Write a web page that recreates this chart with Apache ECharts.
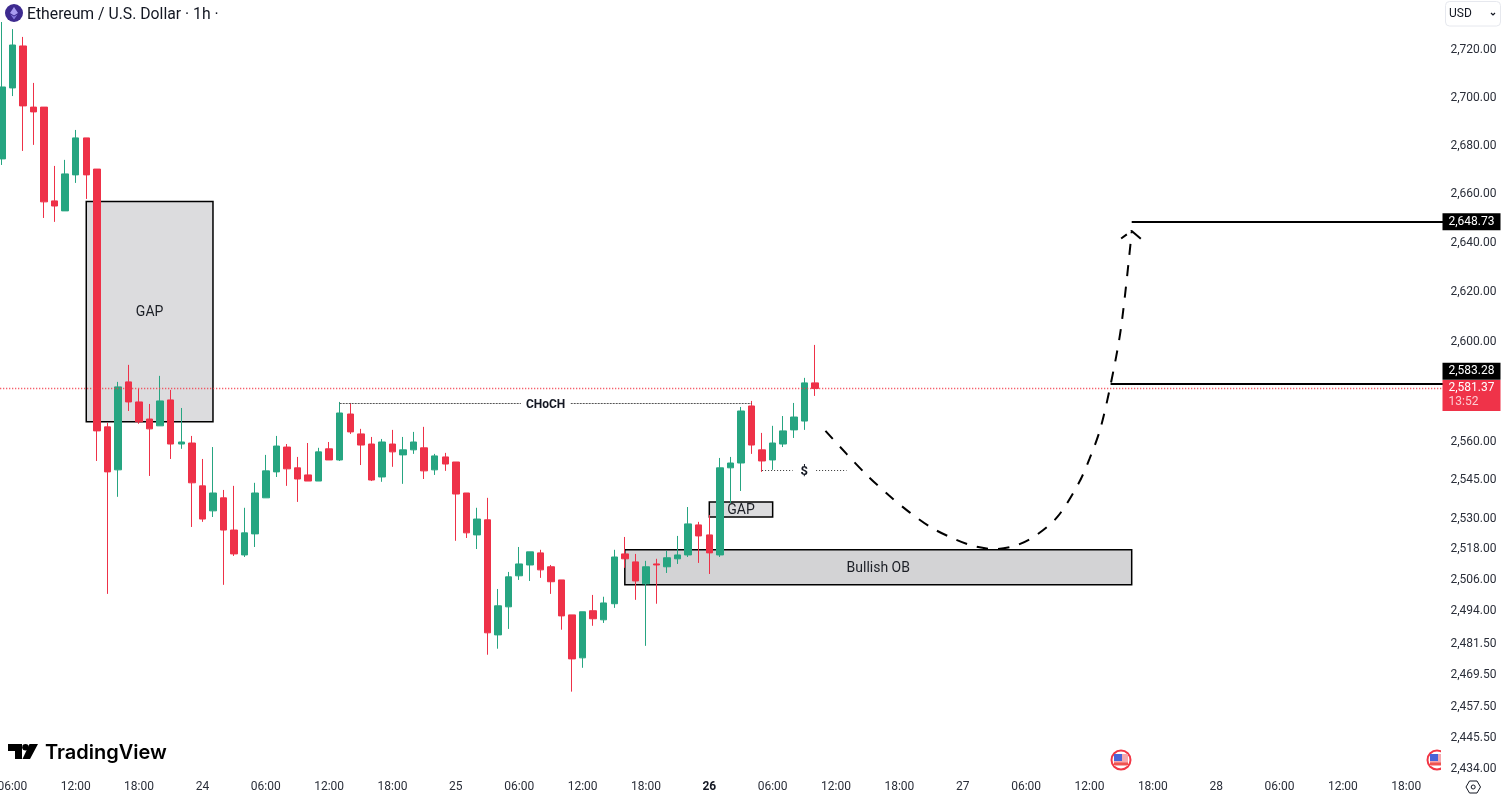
<!DOCTYPE html>
<html>
<head>
<meta charset="utf-8">
<style>html,body{margin:0;padding:0;background:#fff}#chart{width:1502px;height:798px}</style>
<script src="https://cdn.jsdelivr.net/npm/echarts@6/dist/echarts.min.js"></script>
</head>
<body>
<div id="chart"></div>
<script>
// hourly ETH/USD candles, first one is 23rd 05:00
const candleOpen = [2674.6,2704.1,2721.7,2696.1,2696.1,2657.3,2653.2,2668.0,2683.3,2670.4,
  2566.1,2549.1,2584.0,2576.0,2569.2,2566.5,2576.8,2559.3,2559.7,2542.8,
  2533.0,2538.1,2525.5,2515.8,2524.0,2538.1,2548.3,2558.1,2549.9,2547.1,
  2544.7,2557.4,2553.0,2571.2,2563.3,2559.3,2546.3,2559.3,2555.0,2557.0,
  2557.8,2549.1,2554.2,2552.2,2540.0,2523.6,2529.5,2484.9,2495.7,2507.7,
  2511.9,2516.6,2511.2,2506.1,2492.6,2476.1,2494.2,2490.7,2496.9,2516.2,
  2513.1,2504.6,2512.3,2511.2,2514.3,2515.8,2527.5,2523.6,2515.8,2549.9,
  2551.8,2574.4,2557.0,2553.0,2559.3,2564.9,2568.4,2583.6];
const candleClose = [2704.5,2722.1,2696.6,2694.1,2656.9,2655.2,2668.4,2683.3,2668.0,2564.5,
  2548.3,2582.0,2576.0,2568.1,2565.3,2576.4,2559.3,2560.1,2544.0,2529.8,
  2540.0,2525.5,2516.2,2524.4,2540.0,2548.7,2558.5,2549.5,2545.5,2544.7,
  2556.2,2553.0,2571.6,2564.1,2558.9,2545.1,2560.1,2556.2,2557.0,2560.1,
  2548.7,2554.6,2551.4,2539.6,2524.4,2529.8,2485.7,2496.1,2507.3,2512.3,
  2517.0,2510.0,2505.4,2492.2,2475.7,2493.8,2491.1,2497.2,2515.0,2514.3,
  2505.7,2511.2,2511.9,2514.7,2515.8,2527.9,2523.2,2516.6,2549.9,2551.8,
  2572.4,2558.9,2552.6,2559.7,2564.5,2570.0,2583.6,2581.37];
const candleLow = [2672.1,2700.7,2677.9,2680.4,2650.3,2648.7,2653.2,2664.7,2658.1,2552.6,
  2500.7,2538.5,2572.4,2567.3,2546.7,2566.5,2553.4,2557.4,2526.7,2528.7,
  2530.6,2504.2,2515.4,2515.0,2518.9,2538.1,2546.3,2542.8,2536.5,2544.7,
  2544.7,2553.0,2552.6,2563.3,2551.0,2544.7,2544.4,2550.3,2543.6,2555.4,
  2545.5,2547.1,2548.7,2521.3,2522.4,2518.1,2477.3,2479.6,2487.2,2506.1,
  2505.7,2506.9,2500.7,2486.9,2463.2,2472.3,2488.4,2489.5,2495.3,2510.8,
  2498.4,2480.7,2496.9,2508.8,2512.3,2515.0,2512.7,2508.4,2515.0,2536.1,
  2540.8,2555.4,2548.3,2549.1,2558.1,2561.7,2564.9,2578.4];
const candleHigh = [2731.8,2728.8,2725.5,2706.2,2696.1,2671.7,2674.2,2686.6,2683.3,2670.4,
  2567.7,2584.0,2590.8,2581.2,2575.2,2586.4,2580.8,2573.6,2562.5,2553.4,
  2558.1,2541.2,2542.8,2534.2,2544.0,2555.0,2562.5,2559.3,2554.2,2559.7,
  2557.8,2560.1,2576.0,2575.6,2565.3,2562.1,2561.3,2564.9,2562.1,2564.1,
  2566.1,2555.4,2555.8,2552.2,2540.0,2534.2,2538.1,2502.6,2509.2,2518.9,
  2517.0,2517.8,2511.9,2506.1,2492.6,2493.8,2500.3,2499.6,2517.8,2522.8,
  2516.2,2513.5,2514.3,2517.4,2523.2,2534.5,2528.7,2531.4,2553.8,2554.2,
  2574.0,2576.4,2563.7,2566.5,2570.4,2575.6,2585.6,2598.8];

const priceTicks = [2720,2700,2680,2660,2640,2620,2600,2560,2545,2530,2518,2506,2494,2481.5,2469.5,2457.5,2445.5,2434];

// projected path, by category index
const pathIndex = [79,81,83,85,87,89,91,93,95,97,99,101,103,104,105,106,107,108];
const pathPrice = [2564.5,2555.4,2546.7,2539.1,2532.3,2526.5,2522.4,2519.3,2518.1,2519.4,2523.6,2530.8,2544.0,2553.4,2564.9,2582.8,2606.0,2644.6];
const arrowIndex = [107,108,109];
const arrowPrice = [2641.9,2645.0,2641.3];

const lastPrice = 2581.37;
const levelUpper = 2648.73;
const levelLower = 2583.28;

// categories run 23rd 04:00 up to the right edge, one per hour
const categories = [];
for (let i = 0, day = 23, hour = 4; i < 139; i++) {
  categories.push(day + ' ' + String(hour).padStart(2, '0') + ':00');
  hour++;
  if (hour == 24) { hour = 0; day++; }
}
const candles = [['-', '-', '-', '-']];
candleOpen.forEach((o, i) => candles.push([o, candleClose[i], candleLow[i], candleHigh[i]]));

const money = v => v.toLocaleString('en-US', { minimumFractionDigits: 2, maximumFractionDigits: 2 });
const font = 'Roboto';

let chart = echarts.init(document.getElementById('chart'), null, { renderer: 'canvas' });

const boxStyle = fill => ({ color: fill, borderColor: '#000', borderWidth: 1.5 });
const boxLabel = { show: true, position: 'inside', offset: [0, 1], color: '#1c1f26', fontSize: 14, fontFamily: font };

chart.setOption({
  animation: false,
  backgroundColor: '#fff',
  textStyle: { fontFamily: font },
  title: {
    text: 'Ethereum / U.S. Dollar · 1h ·',
    left: 27, top: 7, padding: 0,
    textStyle: { fontSize: 15.75, fontWeight: 'normal', color: '#131722', fontFamily: font }
  },
  grid: { left: -8.78, top: 0, width: 1457.28, height: 772, outerBoundsMode: 'none', containLabel: false },
  xAxis: {
    type: 'category',
    boundaryGap: false,
    data: categories,
    axisLine: { show: false },
    axisTick: { show: false },
    splitLine: { show: false },
    axisLabel: {
      margin: 9,
      fontSize: 12,
      color: '#2a2e39',
      interval: (i, name) => Number(name.slice(-5, -3)) % 6 == 0,
      formatter: name => {
        const [day, time] = name.split(' ');
        if (time != '00:00') return time;
        return day == '26' ? '{b|26}' : day;
      },
      rich: { b: { fontSize: 12, fontWeight: 'bold', color: '#131722', fontFamily: font } }
    }
  },
  yAxis: {
    type: 'log',
    logBase: 10,
    position: 'right',
    min: 2432.8,
    max: 2741.1,
    axisLine: { show: false },
    axisTick: { show: false },
    splitLine: { show: false },
    axisLabel: {
      show: true,
      margin: 2,
      fontSize: 12,
      color: '#2a2e39',
      padding: [0, 0, 4, 0],
      customValues: priceTicks,
      formatter: v => money(v)
    }
  },
  series: [
    {
      type: 'line', z: 1, data: [], silent: true,
      markArea: {
        silent: true,
        data: [
          [{ coord: [categories[9], 2657.1], itemStyle: boxStyle('#dcdcde'), label: { ...boxLabel, formatter: 'GAP' } }, { coord: [categories[21], 2568.1] }],
          [{ coord: [categories[68], 2536.5], itemStyle: boxStyle('#dcdcde'), label: { ...boxLabel, formatter: 'GAP' } }, { coord: [categories[74], 2530.6] }],
          [{ coord: [categories[60], 2517.8], itemStyle: boxStyle('#d3d3d5'), label: { ...boxLabel, formatter: 'Bullish OB' } }, { coord: [categories[108], 2504.2] }]
        ]
      },
      markLine: {
        silent: true, symbol: 'none',
        data: [{ yAxis: lastPrice, lineStyle: { color: '#f23645', type: [1, 2], width: 1.3, opacity: 1 }, label: { show: false } }]
      }
    },
    {
      type: 'candlestick', z: 3,
      data: candles,
      barWidth: 7,
      clip: false,
      itemStyle: {
        color: '#26a581', color0: '#ee3148',
        borderColor: '#26a581', borderColor0: '#ee3148', borderColorDoji: '#ee3148',
        borderWidth: 1
      }
    },
    {
      type: 'line', z: 4, silent: true,
      data: pathIndex.map((x, i) => [categories[x], pathPrice[i]]),
      smooth: 0.3,
      showSymbol: false,
      lineStyle: { color: '#000', width: 2, type: [11, 10.5] },
      markLine: {
        silent: true, symbol: 'none',
        data: [
          [{ coord: [categories[108], levelUpper], lineStyle: { color: '#000', width: 2, type: 'solid' }, label: { show: false } }, { coord: [categories[138], levelUpper] }],
          [{ coord: [categories[106], levelLower], lineStyle: { color: '#000', width: 2, type: 'solid' }, label: { show: false } }, { coord: [categories[138], levelLower] }],
          [{
            coord: [categories[33], 2575.6], lineStyle: { color: '#555', width: 1, type: [2, 1] },
            label: { show: true, position: 'insideMiddle', offset: [0, 2], formatter: 'CHoCH', color: '#131722', fontSize: 12, fontWeight: 'bold', backgroundColor: '#fff', padding: [1, 5] }
          }, { coord: [categories[72], 2575.6] }],
          [{
            coord: [categories[73], 2549.1], lineStyle: { color: '#333', width: 1, type: [1, 2] },
            label: { show: true, position: 'insideMiddle', offset: [0, 2], formatter: '$', color: '#131722', fontSize: 13, fontWeight: 'bold', backgroundColor: '#fff', padding: [1, 8] }
          }, { coord: [categories[81], 2549.1] }]
        ]
      }
    },
    {
      type: 'line', z: 4, silent: true,
      data: arrowIndex.map((x, i) => [categories[x], arrowPrice[i]]),
      showSymbol: false,
      lineStyle: { color: '#000', width: 2, type: [7, 5, 13, 20] }
    },
    {
      type: 'line', z: 6, data: [], silent: true,
      markPoint: {
        silent: true,
        symbol: 'rect',
        data: [
          {
            coord: [categories[138], levelUpper], symbolSize: [58, 17], symbolOffset: [23, 0],
            itemStyle: { color: '#000' },
            label: { show: true, position: 'inside', formatter: money(levelUpper), color: '#fff', fontSize: 12, fontFamily: font }
          },
          {
            coord: [categories[138], levelLower], symbolSize: [58, 17], symbolOffset: [23, -12.5],
            itemStyle: { color: '#000' },
            label: { show: true, position: 'inside', formatter: money(levelLower), color: '#fff', fontSize: 12, fontFamily: font }
          },
          {
            coord: [categories[138], lastPrice], symbolSize: [58, 31], symbolOffset: [23, 7],
            itemStyle: { color: '#ef3349' },
            label: {
              show: true, position: 'inside', formatter: '{p|' + money(lastPrice) + '}\n{t|13:52}',
              rich: {
                p: { color: '#fff', fontSize: 12, lineHeight: 14, width: 46, align: 'left', fontFamily: font },
                t: { color: '#fccdd2', fontSize: 12, lineHeight: 14, width: 46, align: 'left', fontFamily: font }
              }
            }
          }
        ]
      }
    }
  ],
  graphic: [
    // pair icon
    { type: 'circle', shape: { cx: 14, cy: 13, r: 9 }, style: { fill: '#3d2a8f' } },
    { type: 'polygon', shape: { points: [[14, 7], [18, 13], [14, 15.5], [10, 13]] }, style: { fill: '#a99cf0' } },
    { type: 'polygon', shape: { points: [[14, 16.5], [17.5, 14.5], [14, 19.5], [10.5, 14.5]] }, style: { fill: '#8577dd' } },
    // currency selector
    { type: 'rect', shape: { x: 1445.5, y: 1.5, width: 55, height: 24.5, r: 4 }, style: { fill: '#fff', stroke: '#e6e8ee', lineWidth: 1 } },
    { type: 'text', style: { x: 1449, y: 14, text: 'USD', font: '12px Roboto', fill: '#131722', verticalAlign: 'middle' } },
    { type: 'polyline', shape: { points: [[1491, 13], [1493, 15], [1495, 13]] }, style: { stroke: '#131722', fill: 'none', lineWidth: 1.2 } },
    // logo
    { type: 'polygon', shape: { points: [[8, 744], [22, 744], [22, 759], [15, 759], [15, 751], [8, 751]] }, style: { fill: '#000' } },
    { type: 'circle', shape: { cx: 25.5, cy: 747.3, r: 3.3 }, style: { fill: '#000' } },
    { type: 'polygon', shape: { points: [[29.5, 744], [38, 744], [30, 759], [22.5, 759]] }, style: { fill: '#000' } },
    { type: 'text', style: { x: 45, y: 753, text: 'TradingView', font: '600 20px Inter', fill: '#000', verticalAlign: 'middle' } },
    // event flags
    ...[1121, 1437].flatMap(cx => [
      { type: 'circle', z: 10, shape: { cx: cx, cy: 760, r: 9.5 }, style: { fill: '#fff', stroke: '#f23645', lineWidth: 2 } },
      { type: 'rect', z: 10, shape: { x: cx - 7, y: 754, width: 14, height: 12 }, style: { fill: '#f7a8ae' } },
      { type: 'rect', z: 10, shape: { x: cx - 7, y: 762.5, width: 14, height: 2.5 }, style: { fill: '#ef5350' } },
      { type: 'rect', z: 10, shape: { x: cx - 7, y: 754, width: 8, height: 7 }, style: { fill: '#4a63d8' } }
    ]),
    { type: 'rect', z: 11, shape: { x: 1441, y: 748, width: 8, height: 24 }, style: { fill: '#fff' } },
    // settings
    { type: 'polygon', shape: { points: [[1466, 787], [1469.5, 781], [1477, 781], [1480.5, 787], [1477, 793], [1469.5, 793]] }, style: { fill: 'none', stroke: '#131722', lineWidth: 1 } },
    { type: 'circle', shape: { cx: 1473.2, cy: 787, r: 2 }, style: { fill: 'none', stroke: '#131722', lineWidth: 1 } }
  ]
});
</script>
</body>
</html>
